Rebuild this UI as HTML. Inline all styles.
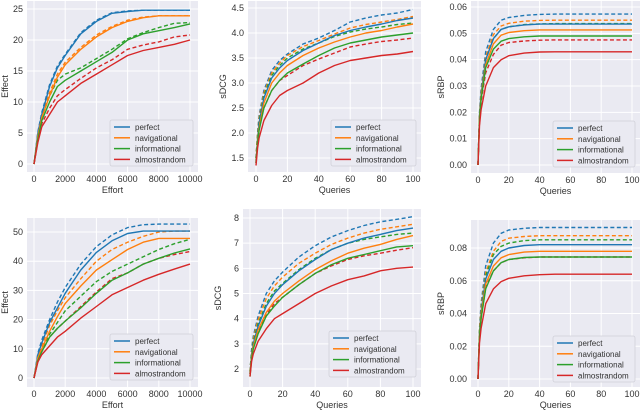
<!DOCTYPE html>
<html><head><meta charset="utf-8"><style>
body{margin:0;background:#fff;}
svg{display:block;font-family:"Liberation Sans","DejaVu Sans",sans-serif;}
</style></head><body>
<svg id="chart" width="640" height="410" viewBox="0 0 640 410" xmlns="http://www.w3.org/2000/svg"></svg>
<script>
const seriesNames = ["perfect","navigational","informational","almostrandom"];
const colors = ["#1f77b4","#ff7f0e","#2ca02c","#d62728"];
const effortX = [0,250,500,1000,1500,2000,3000,4000,5000,6000,7000,8000,9000,10000];
const queryX = [0,1,2,5,10,15,20,30,40,50,60,70,80,90,100];
const effortTicks = [0,2000,4000,6000,8000,10000];
const queryTicks = [0,20,40,60,80,100];

// top-left: Effect vs Effort
const p1Solid = [
 [0,5,8,12.5,15.5,17.5,21,23,24.3,24.6,24.8,24.8,24.8,24.8],
 [0,4.5,7.5,11,14,16,18.5,20.5,22,23,23.6,23.9,23.9,23.9],
 [0,4,7,10,12.5,13.5,15,16.5,18,20,21,21.5,22,22.6],
 [0,3.5,6,8,10,11,13,14.5,16,17.5,18.3,18.8,19.3,20]];
const p1Dash = [
 [0,5.2,8.3,12.8,15.8,17.7,21.2,23.2,24.4,24.7,24.8,24.8,24.8,24.8],
 [0,4.8,7.8,11.5,14.5,16.4,18.8,20.8,22.2,23.2,23.7,23.9,23.9,23.9],
 [0,4.2,7.5,11,13.5,14.5,15.5,17,18.5,20.2,21.2,22,22.7,22.8],
 [0,3.8,6.5,9,11,12,13.8,15.5,16.8,18.5,19.2,19.7,20.5,20.8]];
const p1Ticks = [0,5,10,15,20,25];

// bottom-left
const p4Solid = [
 [0,8,12,19,24,29,37,43,47,49.5,50.3,50.3,50.3,50.3],
 [0,7,10,16,21,25.5,31.5,37,40.5,44,46.5,47.8,47.8,47.8],
 [0,6,9,14,17,19.5,24,29,33.5,36,39,41,42.8,44.2],
 [0,5.5,8,11,14,16,20.5,24.5,28.5,31,33.5,35.5,37.3,39]];
const p4Dash = [
 [0,8.5,13,20,26,31,39,45,49,51.5,52.5,52.7,52.7,52.7],
 [0,7.5,11,18,23,27.5,34,40,44,46.5,48.5,50,50.3,50.3],
 [0,6.5,10,15,19,23,28,33,36.5,39,41.5,44,46,47.5],
 [0,6,9,14,17,19.5,24.5,29.5,34,36,39,41,42.3,43.3]];
const p4Ticks = [0,10,20,30,40,50];

// top-middle sDCG
const p2Solid = [
 [1.4,1.9,2.2,2.7,3.1,3.3,3.45,3.65,3.8,3.95,4.05,4.12,4.18,4.25,4.3],
 [1.4,1.85,2.1,2.6,3.0,3.2,3.35,3.55,3.7,3.82,3.92,4.0,4.05,4.12,4.18],
 [1.4,1.8,2.05,2.5,2.85,3.05,3.2,3.38,3.55,3.7,3.8,3.86,3.92,3.96,4.0],
 [1.35,1.7,1.9,2.25,2.55,2.75,2.85,3.0,3.2,3.35,3.45,3.5,3.55,3.58,3.63]];
const p2Dash = [
 [1.5,2.0,2.35,2.85,3.25,3.45,3.58,3.78,3.9,4.05,4.22,4.3,4.36,4.4,4.47],
 [1.5,2.0,2.3,2.8,3.2,3.4,3.55,3.73,3.85,3.98,4.1,4.17,4.22,4.27,4.33],
 [1.5,1.95,2.25,2.75,3.15,3.35,3.5,3.68,3.8,3.93,4.02,4.08,4.12,4.17,4.2],
 [1.45,1.85,2.1,2.5,2.85,3.05,3.15,3.35,3.48,3.6,3.72,3.78,3.83,3.86,3.9]];
const p2Ticks = [1.5,2.0,2.5,3.0,3.5,4.0,4.5];

// bottom-middle sDCG
const p5Solid = [
 [1.8,2.6,3.0,3.7,4.5,5.0,5.35,5.9,6.35,6.75,7.0,7.2,7.35,7.5,7.6],
 [1.8,2.5,2.9,3.55,4.25,4.7,5.0,5.5,5.95,6.3,6.6,6.8,6.95,7.15,7.3],
 [1.7,2.4,2.8,3.4,4.1,4.5,4.85,5.35,5.8,6.15,6.4,6.55,6.7,6.85,6.9],
 [1.7,2.3,2.6,3.1,3.6,4.0,4.2,4.6,5.0,5.3,5.55,5.7,5.9,6.0,6.05]];
const p5Dash = [
 [1.9,2.8,3.3,4.1,5.0,5.5,5.85,6.45,6.9,7.25,7.5,7.7,7.85,7.95,8.05],
 [1.9,2.7,3.2,3.95,4.8,5.3,5.65,6.2,6.6,6.95,7.2,7.4,7.55,7.65,7.75],
 [1.9,2.7,3.1,3.8,4.6,5.1,5.4,5.95,6.4,6.75,7.0,7.15,7.25,7.35,7.4],
 [1.8,2.5,2.9,3.5,4.15,4.6,4.85,5.35,5.8,6.1,6.35,6.5,6.6,6.72,6.82]];
const p5Ticks = [2,3,4,5,6,7,8];

// top-right sRBP
const p3Solid = [
 [0,0.019,0.027,0.040,0.048,0.0515,0.0525,0.0532,0.0535,0.0535,0.0535,0.0535,0.0535,0.0535,0.0535],
 [0,0.018,0.026,0.038,0.046,0.0493,0.0503,0.051,0.0513,0.0513,0.0513,0.0513,0.0513,0.0513,0.0513],
 [0,0.017,0.025,0.037,0.044,0.047,0.048,0.0487,0.049,0.049,0.049,0.049,0.049,0.049,0.049],
 [0,0.015,0.021,0.030,0.037,0.040,0.0415,0.0425,0.0429,0.043,0.043,0.043,0.043,0.043,0.043]];
const p3Dash = [
 [0,0.020,0.029,0.043,0.0515,0.055,0.056,0.0568,0.0572,0.0573,0.0573,0.0573,0.0573,0.0573,0.0573],
 [0,0.019,0.028,0.041,0.0495,0.0528,0.0538,0.0546,0.0549,0.055,0.055,0.055,0.055,0.055,0.055],
 [0,0.019,0.027,0.040,0.048,0.0515,0.0525,0.0533,0.0536,0.0537,0.0537,0.0537,0.0537,0.0537,0.0537],
 [0,0.017,0.024,0.035,0.042,0.0455,0.0465,0.0471,0.0474,0.0475,0.0475,0.0475,0.0475,0.0475,0.0475]];
const p3Ticks = [0.00,0.01,0.02,0.03,0.04,0.05,0.06];

// bottom-right sRBP
const p6Solid = [
 [0,0.028,0.041,0.061,0.073,0.078,0.080,0.0815,0.082,0.082,0.082,0.082,0.082,0.082,0.082],
 [0,0.027,0.039,0.058,0.069,0.074,0.076,0.0775,0.078,0.078,0.078,0.078,0.078,0.078,0.078],
 [0,0.026,0.037,0.055,0.066,0.071,0.073,0.0742,0.0745,0.0745,0.0745,0.0745,0.0745,0.0745,0.0745],
 [0,0.022,0.031,0.046,0.055,0.0595,0.0615,0.063,0.0637,0.064,0.064,0.064,0.064,0.064,0.064]];
const p6Dash = [
 [0,0.031,0.046,0.069,0.083,0.089,0.091,0.092,0.0925,0.0925,0.0925,0.0925,0.0925,0.0925,0.0925],
 [0,0.030,0.044,0.065,0.078,0.084,0.086,0.087,0.0875,0.0875,0.0875,0.0875,0.0875,0.0875,0.0875],
 [0,0.029,0.042,0.063,0.076,0.081,0.083,0.0845,0.085,0.085,0.085,0.085,0.085,0.085,0.085],
 [0,0.026,0.037,0.056,0.066,0.071,0.073,0.074,0.0745,0.0745,0.0745,0.0745,0.0745,0.0745,0.0745]];
const p6Ticks = [0.00,0.02,0.04,0.06,0.08];

const NS = "http://www.w3.org/2000/svg";
const svg = document.getElementById("chart");
function mk(tag, attrs, parent){const e=document.createElementNS(NS,tag);for(const k in attrs)e.setAttribute(k,attrs[k]);(parent||svg).appendChild(e);return e;}

const panels = [
 {id:"effect-top",box:[27,1,198,172],xs:effortX,xt:effortTicks,xd:[0,10000,34,190],yt:p1Ticks,yd:[0,25,164,9],solid:p1Solid,dash:p1Dash,xl:"Effort",yl:"Effect",fmt:v=>String(v),leg:[110,120]},
 {id:"sdcg-top",box:[248,1,421,172],xs:queryX,xt:queryTicks,xd:[0,100,256,413],yt:p2Ticks,yd:[1.5,4.5,158,8],solid:p2Solid,dash:p2Dash,xl:"Queries",yl:"sDCG",fmt:v=>v.toFixed(1),leg:[331,120]},
 {id:"srbp-top",box:[471,1,640,173],xs:queryX,xt:queryTicks,xd:[0,100,478,632],yt:p3Ticks,yd:[0,0.06,165,7],solid:p3Solid,dash:p3Dash,xl:"Queries",yl:"sRBP",fmt:v=>v.toFixed(2),leg:[553,121]},
 {id:"effect-bottom",box:[27,218,198,387],xs:effortX,xt:effortTicks,xd:[0,10000,34,190],yt:p4Ticks,yd:[0,50,378,232],solid:p4Solid,dash:p4Dash,xl:"Effort",yl:"Effect",fmt:v=>String(v),leg:[110,334]},
 {id:"sdcg-bottom",box:[243,209,421,387],xs:queryX,xt:queryTicks,xd:[0,100,250,413],yt:p5Ticks,yd:[2,8,369,218],solid:p5Solid,dash:p5Dash,xl:"Queries",yl:"sDCG",fmt:v=>String(v),leg:[329,331]},
 {id:"srbp-bottom",box:[471,220,640,387],xs:queryX,xt:queryTicks,xd:[0,100,478,632],yt:p6Ticks,yd:[0,0.08,379,248],solid:p6Solid,dash:p6Dash,xl:"Queries",yl:"sRBP",fmt:v=>v.toFixed(2),leg:[553,336]}
];

panels.forEach(p=>{
  const g = mk("g",{});
  
  
  const [x0,y0,x1,y1]=p.box;
  const X=v=>p.xd[2]+(v-p.xd[0])*(p.xd[3]-p.xd[2])/(p.xd[1]-p.xd[0]);
  const Y=v=>p.yd[2]+(v-p.yd[0])*(p.yd[3]-p.yd[2])/(p.yd[1]-p.yd[0]);
  const bg = mk("rect",{x:x0,y:y0,width:x1-x0,height:y1-y0,fill:"#eaeaf2"},g);
  
  
  p.xt.forEach(t=>{
    mk("line",{x1:X(t),x2:X(t),y1:y0,y2:y1,stroke:"#fff","stroke-width":1},g);
    const tx = mk("text",{x:X(t),y:y1+10,"font-size":9,fill:"#333","text-anchor":"middle"},g);
    tx.textContent=String(t);
    
    
  });
  p.yt.forEach(t=>{
    mk("line",{x1:x0,x2:x1,y1:Y(t),y2:Y(t),stroke:"#fff","stroke-width":1},g);
    const tx = mk("text",{x:x0-4,y:Y(t)+3,"font-size":9,fill:"#333","text-anchor":"end"},g);
    tx.textContent=p.fmt(t);
    
    
  });
  const xl = mk("text",{x:(x0+x1)/2,y:y1+21,"font-size":9,fill:"#333","text-anchor":"middle"},g);
  xl.textContent=p.xl;
  
  
  const yx = x0 - (p.yl==="sRBP"?27:(p.yl==="sDCG"?22:19));
  const yl = mk("text",{x:yx,y:(y0+y1)/2,"font-size":9,fill:"#333","text-anchor":"middle",transform:`rotate(-90 ${yx} ${(y0+y1)/2})`},g);
  yl.textContent=p.yl;
  
  
  const draw=(arr,dash,kind)=>arr.forEach((s,i)=>{
    const d=s.map((v,j)=>(j?"L":"M")+X(p.xs[j]).toFixed(1)+","+Y(v).toFixed(1)).join("");
    const a={d:d,fill:"none",stroke:colors[i],"stroke-width":1.4,"stroke-linejoin":"round"};
    if(dash)a["stroke-dasharray"]="4,2.5";
    const pa=mk("path",a,g);
    
    
  });
  draw(p.dash,true,"dashed");
  draw(p.solid,false,"solid");
  const [lx,ly]=p.leg;
  const lg = mk("g",{},g);
  
  
  mk("rect",{x:lx,y:ly,width:x1-lx-5,height:46,fill:"#eaeaf2",stroke:"#d0d0d8","stroke-width":0.8,rx:2},lg);
  seriesNames.forEach((n,i)=>{
    const yy=ly+7+i*10.8;
    mk("line",{x1:lx+4,x2:lx+20,y1:yy,y2:yy,stroke:colors[i],"stroke-width":1.5},lg);
    const t=mk("text",{x:lx+25,y:yy+3,"font-size":8,fill:"#333"},lg);
    t.textContent=n;
    
    
  });
});
</script>
</body></html>
